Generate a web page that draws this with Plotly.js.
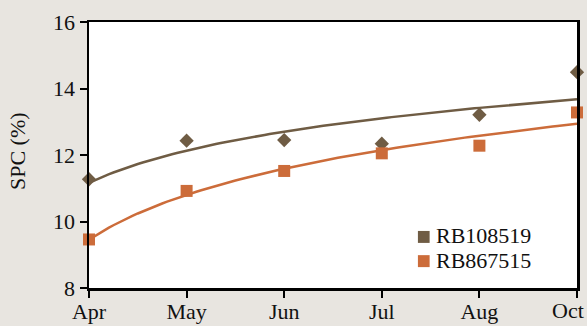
<!DOCTYPE html>
<html>
<head>
<meta charset="utf-8">
<script src="https://cdn.plot.ly/plotly-3.0.1.min.js"></script>
<style>html,body{margin:0;padding:0;background:#e8e5e0;}#chart{width:587px;height:326px;}</style>
</head>
<body>
<div id="chart"></div>
<script>
const months = ["Apr", "May", "Jun", "Jul", "Aug", "Oct"];
const rb108519 = [11.27, 12.43, 12.45, 12.34, 13.21, 14.49];
const rb867515 = [9.46, 10.92, 11.52, 12.05, 12.28, 13.28];
const seriesNames = ["RB108519", "RB867515"];
const yTicks = [8, 10, 12, 14, 16];

const brown = "#6f5c44";
const orange = "#cc6c3a";
const idx = months.map((_, i) => i);
const last = months.length - 1;

// Logarithmic trendline (least squares on ln(position)), as in the source chart
function logFit(ys) {
  const xs = ys.map((_, i) => Math.log(i + 1));
  const n = ys.length;
  const mx = xs.reduce((s, v) => s + v, 0) / n;
  const my = ys.reduce((s, v) => s + v, 0) / n;
  let sxy = 0, sxx = 0;
  for (let i = 0; i < n; i++) { sxy += (xs[i] - mx) * (ys[i] - my); sxx += (xs[i] - mx) ** 2; }
  const b = sxy / sxx, a = my - b * mx;
  const tx = [], ty = [];
  for (let k = 0; k <= 100; k++) { const t = (n - 1) * k / 100; tx.push(t); ty.push(a + b * Math.log(t + 1)); }
  return { x: tx, y: ty };
}
const fitA = logFit(rb108519);
const fitB = logFit(rb867515);

const font = "Liberation Serif, DejaVu Serif, serif";
const txt = "#111111";

// the last label is drawn right-aligned (kept inside the page), as in the source
const tickText = months.map((m, i) => i === last ? "" : m);

const data = [
  { x: fitA.x, y: fitA.y, mode: "lines", line: { color: brown, width: 2.5 }, showlegend: false, hoverinfo: "skip", cliponaxis: false },
  { x: fitB.x, y: fitB.y, mode: "lines", line: { color: orange, width: 2.5 }, showlegend: false, hoverinfo: "skip", cliponaxis: false },
  { x: idx, y: rb108519, mode: "markers", name: seriesNames[0], marker: { symbol: "diamond", size: 11, color: brown }, showlegend: false, cliponaxis: false },
  { x: idx, y: rb867515, mode: "markers", name: seriesNames[1], marker: { symbol: "square", size: 12, color: orange }, showlegend: false, cliponaxis: false }
];

// manual legend (square swatches + labels)
const legendRows = [
  { name: seriesNames[0], color: brown, y: 0.192 },
  { name: seriesNames[1], color: orange, y: 0.101 }
];
const shapes = legendRows.map(r => ({
  type: "rect", xref: "paper", yref: "paper",
  x0: 0.674, x1: 0.698, y0: r.y - 0.0225, y1: r.y + 0.0225,
  fillcolor: r.color, line: { width: 0 }
}));
const annotations = legendRows.map(r => ({
  xref: "paper", yref: "paper", x: 0.707, y: r.y, xanchor: "left", yanchor: "middle",
  text: r.name, showarrow: false, font: { family: font, size: 22, color: txt }, yshift: 1
}));
annotations.push({
  xref: "paper", yref: "paper", x: -0.1475, y: 0.515, xanchor: "center", yanchor: "middle",
  textangle: -90, text: "SPC (%)", showarrow: false, font: { family: font, size: 22, color: txt }
});
annotations.push({
  xref: "x", yref: "paper", x: idx[last], y: 0, xanchor: "right", yanchor: "top",
  xshift: 9, yshift: -8, text: months[last], showarrow: false,
  font: { family: font, size: 22, color: txt }
});

const layout = {
  width: 587, height: 326,
  margin: { l: 89, r: 10, t: 22, b: 38 },
  paper_bgcolor: "#e8e5e0",
  plot_bgcolor: "#ffffff",
  font: { family: font, size: 22, color: txt },
  showlegend: false,
  xaxis: {
    range: [0, 5], tickvals: idx, ticktext: tickText,
    showgrid: false, zeroline: false,
    showline: true, mirror: true, linecolor: "#000000", linewidth: 2.5,
    ticks: "outside", ticklen: 7, tickwidth: 2, tickcolor: "#000000",
    ticklabeloverflow: "allow", ticklabelstandoff: -5,
    tickfont: { family: font, size: 22, color: txt }
  },
  yaxis: {
    range: [8, 16], tickvals: yTicks,
    showgrid: false, zeroline: false,
    showline: true, mirror: true, linecolor: "#000000", linewidth: 2.5,
    ticks: "outside", ticklen: 7, tickwidth: 2, tickcolor: "#000000",
    tickfont: { family: font, size: 22, color: txt }
  },
  shapes: shapes,
  annotations: annotations
};

Plotly.newPlot("chart", data, layout, { displayModeBar: false, staticPlot: true });
</script>
</body>
</html>
